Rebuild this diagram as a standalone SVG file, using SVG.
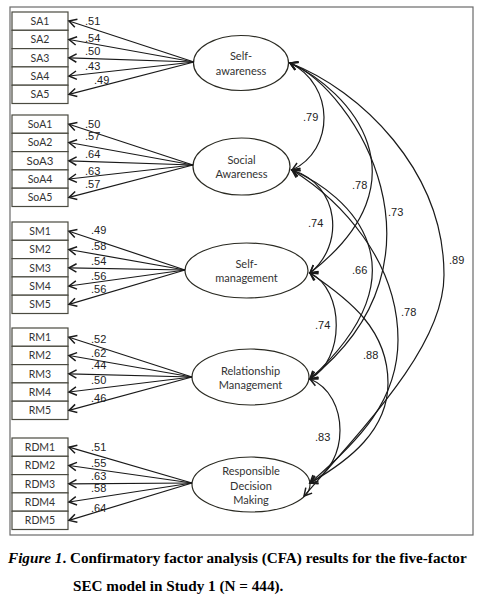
<svg xmlns="http://www.w3.org/2000/svg" width="488" height="599" viewBox="0 0 488 599">
<defs>
<marker id="ah" markerUnits="userSpaceOnUse" markerWidth="12" markerHeight="12" refX="8.5" refY="6" orient="auto-start-reverse" viewBox="0 0 12 12">
<path d="M1,1.8 L8.5,6 L1,10.2" fill="none" stroke="#1a1a1a" stroke-width="1.5"/>
</marker>
<style>
.frame{fill:#fff;stroke:#6a6a6a;stroke-width:1.2}
.box{fill:#fff;stroke:#4a4a40;stroke-width:1.2}
.lat{fill:#fff;stroke:#2a2a22;stroke-width:1.2}
.bt{font-family:Lato,"Liberation Sans",sans-serif;font-size:10.5px;fill:#333;text-anchor:middle}
.lt{font-family:Lato,"Liberation Sans",sans-serif;font-size:11px;fill:#333;text-anchor:middle}
.num{font-family:"Liberation Sans",Arial,sans-serif;font-size:11px;fill:#222}
.ld{fill:none;stroke:#1a1a1a;stroke-width:1.2;marker-end:url(#ah)}
.cv{fill:none;stroke:#1a1a1a;stroke-width:1.2;marker-start:url(#ah);marker-end:url(#ah)}
.cap{font-family:"Liberation Serif","Times New Roman",serif;font-size:15.2px;font-weight:bold;fill:#000}
</style>
</defs>
<rect class="frame" x="10" y="7" width="463" height="528"/>

<g id="indicators-SA">
<rect class="box" x="12" y="12" width="56" height="18.3"/><text class="bt" x="40" y="25">SA1</text>
<rect class="box" x="12" y="30.3" width="56" height="18.3"/><text class="bt" x="40" y="43.3">SA2</text>
<rect class="box" x="12" y="48.6" width="56" height="18.3"/><text class="bt" x="40" y="61.6">SA3</text>
<rect class="box" x="12" y="66.9" width="56" height="18.3"/><text class="bt" x="40" y="79.9">SA4</text>
<rect class="box" x="12" y="85.2" width="56" height="18.3"/><text class="bt" x="40" y="98.2">SA5</text>
</g>
<g id="indicators-SoA">
<rect class="box" x="12" y="115" width="56" height="18.3"/><text class="bt" x="40" y="128">SoA1</text>
<rect class="box" x="12" y="133.3" width="56" height="18.3"/><text class="bt" x="40" y="146.3">SoA2</text>
<rect class="box" x="12" y="151.6" width="56" height="18.3"/><text class="bt" x="40" y="165" style="font-size:11.5px">SoA3</text>
<rect class="box" x="12" y="169.9" width="56" height="18.3"/><text class="bt" x="40" y="182.9">SoA4</text>
<rect class="box" x="12" y="188.2" width="56" height="18.3"/><text class="bt" x="40" y="201.2">SoA5</text>
</g>
<g id="indicators-SM">
<rect class="box" x="12" y="222" width="56" height="18.3"/><text class="bt" x="40" y="235">SM1</text>
<rect class="box" x="12" y="240.3" width="56" height="18.3"/><text class="bt" x="40" y="253.3">SM2</text>
<rect class="box" x="12" y="258.6" width="56" height="18.3"/><text class="bt" x="40" y="271.6">SM3</text>
<rect class="box" x="12" y="276.9" width="56" height="18.3"/><text class="bt" x="40" y="289.9">SM4</text>
<rect class="box" x="12" y="295.2" width="56" height="18.3"/><text class="bt" x="40" y="308.2">SM5</text>
</g>
<g id="indicators-RM">
<rect class="box" x="12" y="328" width="56" height="18.3"/><text class="bt" x="40" y="341">RM1</text>
<rect class="box" x="12" y="346.3" width="56" height="18.3"/><text class="bt" x="40" y="359.3">RM2</text>
<rect class="box" x="12" y="364.6" width="56" height="18.3"/><text class="bt" x="40" y="377.6">RM3</text>
<rect class="box" x="12" y="382.9" width="56" height="18.3"/><text class="bt" x="40" y="395.9">RM4</text>
<rect class="box" x="12" y="401.2" width="56" height="18.3"/><text class="bt" x="40" y="414.2">RM5</text>
</g>
<g id="indicators-RDM">
<rect class="box" x="12" y="438" width="56" height="18.3"/><text class="bt" x="40" y="451">RDM1</text>
<rect class="box" x="12" y="456.3" width="56" height="18.3"/><text class="bt" x="40" y="469.3">RDM2</text>
<rect class="box" x="12" y="474.6" width="56" height="18.3"/><text class="bt" x="40" y="487.6">RDM3</text>
<rect class="box" x="12" y="492.9" width="56" height="18.3"/><text class="bt" x="40" y="505.9">RDM4</text>
<rect class="box" x="12" y="511.2" width="56" height="18.3"/><text class="bt" x="40" y="524.2">RDM5</text>
</g>

<g id="latent-SA">
<ellipse class="lat" cx="241" cy="63" rx="47.5" ry="27.5"/>
<text class="lt" x="241" y="60">Self-</text><text class="lt" x="241" y="75">awareness</text>
</g>
<g id="latent-SoA">
<ellipse class="lat" cx="241.5" cy="166.5" rx="48.5" ry="28.5"/>
<text class="lt" x="241.5" y="164">Social</text><text class="lt" x="241.5" y="178">Awareness</text>
</g>
<g id="latent-SM">
<ellipse class="lat" cx="246.5" cy="270.5" rx="61.5" ry="27.5"/>
<text class="lt" x="246.5" y="268">Self-</text><text class="lt" x="246.5" y="282">management</text>
</g>
<g id="latent-RM">
<ellipse class="lat" cx="250.5" cy="377" rx="58.5" ry="28"/>
<text class="lt" x="250.5" y="375">Relationship</text><text class="lt" x="250.5" y="389">Management</text>
</g>
<g id="latent-RDM">
<ellipse class="lat" cx="251" cy="484.5" rx="59" ry="27.5"/>
<text class="lt" x="251" y="475">Responsible</text><text class="lt" x="251" y="489.5">Decision</text><text class="lt" x="251" y="504">Making</text>
</g>

<g id="connectors">
<path class="ld" d="M194,62 L69,21"/>
<path class="ld" d="M194,62 L69,39.5"/>
<path class="ld" d="M194,62 L69,57.8"/>
<path class="ld" d="M194,62 L69,76"/>
<path class="ld" d="M194,62 L69,94.4"/>

<path class="ld" d="M193,165 L69,124.2"/>
<path class="ld" d="M193,165 L69,142.5"/>
<path class="ld" d="M193,165 L69,160.8"/>
<path class="ld" d="M193,165 L69,179"/>
<path class="ld" d="M193,165 L69,197.4"/>

<path class="ld" d="M185,270 L69,231.2"/>
<path class="ld" d="M185,270 L69,249.5"/>
<path class="ld" d="M185,270 L69,267.8"/>
<path class="ld" d="M185,270 L69,286"/>
<path class="ld" d="M185,270 L69,304.4"/>

<path class="ld" d="M192,377 L69,337.2"/>
<path class="ld" d="M192,377 L69,355.5"/>
<path class="ld" d="M192,377 L69,373.8"/>
<path class="ld" d="M192,377 L69,392"/>
<path class="ld" d="M192,377 L69,410.4"/>

<path class="ld" d="M192,483 L69,447.2"/>
<path class="ld" d="M192,483 L69,465.5"/>
<path class="ld" d="M192,483 L69,483.8"/>
<path class="ld" d="M192,483 L69,502"/>
<path class="ld" d="M192,483 L69,520.4"/>

<path class="cv" d="M290,63 C335,85 335,150 292,170"/>
<path class="cv" d="M290,63 C350,90 430,180 310,273"/>
<path class="cv" d="M290,63 C355,90 460,260 310,379"/>
<path class="cv" d="M290,63 C360,90 444,170 444,275 C444,340 380,410 304,496"/>
<path class="cv" d="M292,170 C340,185 345,245 310,273"/>
<path class="cv" d="M292,170 C350,195 430,270 310,379"/>
<path class="cv" d="M292,170 C340,200 398,260 398,340 C398,400 360,440 310,483"/>
<path class="cv" d="M310,273 C345,290 345,360 310,379"/>
<path class="cv" d="M310,273 C350,300 388,330 388,383 C388,430 350,460 310,483"/>
<path class="cv" d="M310,379 C350,395 350,465 310,483"/>
</g>

<g id="loading-labels">
<text class="num" x="85" y="25">.51</text>
<text class="num" x="85" y="42">.54</text>
<text class="num" x="85" y="55">.50</text>
<text class="num" x="85" y="70">.43</text>
<text class="num" x="94" y="84">.49</text>
<text class="num" x="85" y="128">.50</text>
<text class="num" x="85" y="140">.57</text>
<text class="num" x="85" y="158">.64</text>
<text class="num" x="85" y="175">.63</text>
<text class="num" x="85" y="188">.57</text>
<text class="num" x="91" y="234">.49</text>
<text class="num" x="91" y="250">.58</text>
<text class="num" x="91" y="265">.54</text>
<text class="num" x="91" y="280">.56</text>
<text class="num" x="91" y="293">.56</text>
<text class="num" x="91" y="343">.52</text>
<text class="num" x="91" y="357">.62</text>
<text class="num" x="91" y="369">.44</text>
<text class="num" x="91" y="384">.50</text>
<text class="num" x="91" y="402">.46</text>
<text class="num" x="91" y="451">.51</text>
<text class="num" x="91" y="467">.55</text>
<text class="num" x="91" y="480">.63</text>
<text class="num" x="91" y="492">.58</text>
<text class="num" x="91" y="512">.64</text>
</g>
<g id="correlation-labels">
<text class="num" x="303" y="121">.79</text>
<text class="num" x="352" y="189">.78</text>
<text class="num" x="388" y="216">.73</text>
<text class="num" x="449" y="264">.89</text>
<text class="num" x="308" y="227">.74</text>
<text class="num" x="352" y="274">.66</text>
<text class="num" x="401" y="316">.78</text>
<text class="num" x="315" y="329">.74</text>
<text class="num" x="363" y="359">.88</text>
<text class="num" x="315" y="441">.83</text>
</g>

<g id="caption">
<text class="cap" x="8" y="563"><tspan font-style="italic">Figure 1</tspan>. Confirmatory factor analysis (CFA) results for the five-factor</text>
<text class="cap" x="73" y="591">SEC model in Study 1 (N = 444).</text>
</g>
</svg>
